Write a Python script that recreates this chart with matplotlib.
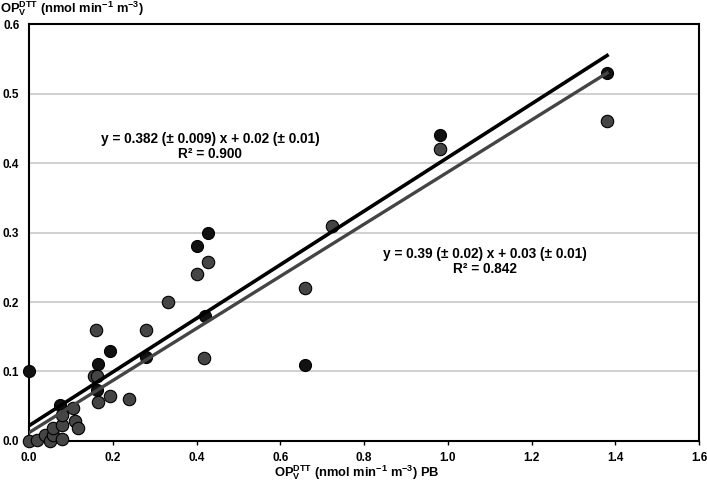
import matplotlib
matplotlib.use('Agg')
import matplotlib.pyplot as plt
import numpy as np

plt.rcParams['font.family'] = ['Liberation Sans', 'DejaVu Sans']
plt.rcParams['font.weight'] = 'bold'
plt.rcParams['mathtext.fontset'] = 'custom'
plt.rcParams['mathtext.rm'] = 'Liberation Sans:bold'
plt.rcParams['mathtext.it'] = 'Liberation Sans:bold'
plt.rcParams['mathtext.bf'] = 'Liberation Sans:bold'

# series 1 (black)
black_x = [0.0, 0.074, 0.162, 0.165, 0.193, 0.279, 0.40, 0.427, 0.42, 0.659, 0.98, 1.38]
black_y = [0.10, 0.052, 0.073, 0.111, 0.13, 0.121, 0.28, 0.30, 0.18, 0.11, 0.44, 0.53]

# series 2 (dark gray)
gray_x = [0.0, 0.019, 0.038, 0.05, 0.057, 0.057, 0.079, 0.079, 0.079, 0.105, 0.11, 0.117,
          0.155, 0.162, 0.165, 0.193, 0.239, 0.16, 0.279, 0.332, 0.40, 0.427, 0.418,
          0.659, 0.723, 0.98, 1.38]
gray_y = [0.0, 0.001, 0.009, 0.0, 0.009, 0.019, 0.003, 0.023, 0.037, 0.048, 0.029, 0.019,
          0.094, 0.094, 0.056, 0.065, 0.06, 0.16, 0.16, 0.20, 0.24, 0.258, 0.12,
          0.22, 0.31, 0.42, 0.46]

# fitted lines as drawn (intercept, slope), over x range
fit_range = [0.0, 1.38]
black_fit = (0.022, 0.386)
gray_fit = (0.012, 0.375)

eq_black = 'y = 0.382 (± 0.009) x + 0.02 (± 0.01)\nR² = 0.900'
eq_gray = 'y = 0.39 (± 0.02) x + 0.03 (± 0.01)\nR² = 0.842'

fig = plt.figure(figsize=(7.07, 4.86), dpi=100)
ax = fig.add_axes([0.041, 0.0926, 0.948, 0.858])

ax.set_xlim(0, 1.6)
ax.set_ylim(0, 0.6)
ax.set_xticks(np.arange(0, 1.61, 0.2))
ax.set_yticks(np.arange(0, 0.61, 0.1))
ax.set_xticklabels(['%.1f' % v for v in np.arange(0, 1.61, 0.2)])
ax.set_yticklabels(['%.1f' % v for v in np.arange(0, 0.61, 0.1)])
ax.yaxis.grid(True, color='#c8c8c8', linewidth=1.2)
ax.set_axisbelow(True)
for s in ax.spines.values():
    s.set_color('black')
    s.set_linewidth(1.5)
ax.tick_params(axis='x', direction='out', length=3, width=1, labelsize=8.5, pad=5)
ax.tick_params(axis='y', length=0, labelsize=8.5, pad=7)

xs = np.array(fit_range)
ax.scatter(black_x, black_y, s=75, color='#111111', edgecolor='black', linewidth=0.8, zorder=3, clip_on=False)
ax.scatter(gray_x, gray_y, s=80, color='#454545', edgecolor='black', linewidth=0.8, zorder=3, clip_on=False)
ax.plot(xs, black_fit[0] + black_fit[1] * xs, color='black', linewidth=2.6, zorder=4)
ax.plot(xs, gray_fit[0] + gray_fit[1] * xs, color='#444444', linewidth=2.4, zorder=4)

ax.text(0.432, 0.424, eq_black, ha='center', va='center', fontsize=9.8, fontweight='bold',
        linespacing=1.05)
ax.text(1.088, 0.258, eq_gray, ha='center', va='center', fontsize=9.8, fontweight='bold',
        linespacing=1.05)

fig.text(0.0, 0.982, r'OP$_V^{DTT}$ (nmol min$^{-1}$ m$^{-3}$)', ha='left', va='center',
         fontsize=9.3, fontweight='bold')
fig.text(0.505, 0.027, r'OP$_V^{DTT}$ (nmol min$^{-1}$ m$^{-3}$) PB', ha='center', va='center',
         fontsize=9.3, fontweight='bold')

fig.savefig('out.png', dpi=100)
